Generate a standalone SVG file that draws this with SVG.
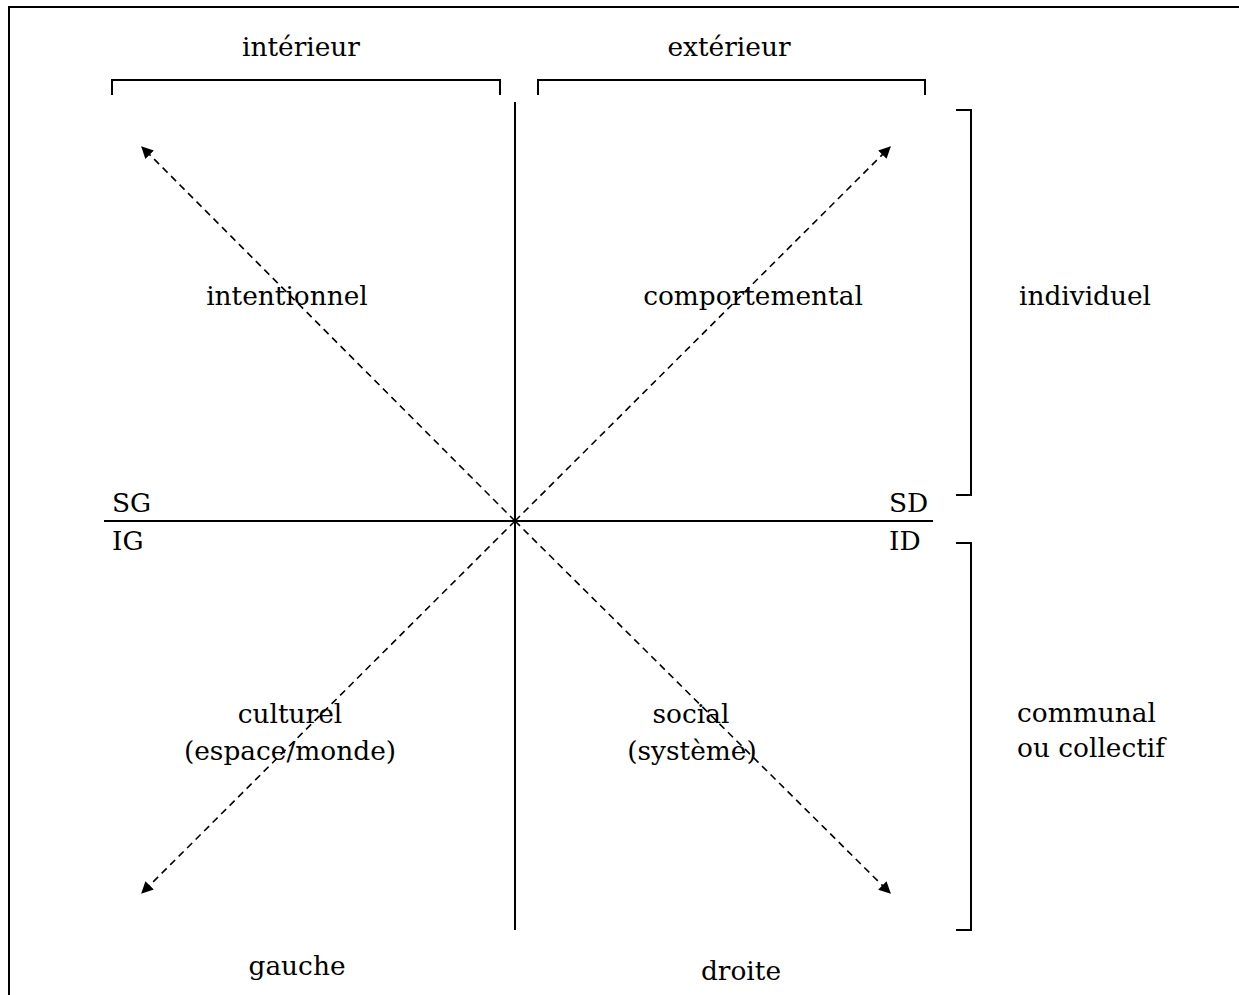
<svg xmlns="http://www.w3.org/2000/svg" width="1239" height="995" viewBox="0 0 1239 995">
<style>
.t{font-family:"DejaVu Serif","Liberation Serif",serif;font-size:26.4px;fill:#000}
.m{text-anchor:middle}
.s{stroke:#000;stroke-width:2;fill:none}
.d{stroke:#000;stroke-width:1.6;stroke-dasharray:7,5;fill:none}
</style>
<defs>
<marker id="ah" viewBox="0 0 10 10" refX="9" refY="5" markerWidth="12" markerHeight="12" markerUnits="userSpaceOnUse" orient="auto">
<path d="M0,0 L10,5 L0,10 z" fill="#000"/>
</marker>
</defs>
<rect width="1239" height="995" fill="#fff"/>
<g id="frame"><path class="s" d="M9,995 V7 H1239"/></g>
<g id="connectors">
<path class="s" d="M112,95 V80 H500 V95"/>
<path class="s" d="M538,95 V80 H925 V95"/>
<path class="s" d="M956,110 H971 V495 H956"/>
<path class="s" d="M956,543 H971 V930 H956"/>
<line class="s" x1="515" y1="102" x2="515" y2="930"/>
<line class="s" x1="104" y1="521" x2="933" y2="521"/>
<line class="d" x1="515" y1="521" x2="142" y2="147" marker-end="url(#ah)"/>
<line class="d" x1="515" y1="521" x2="890" y2="147" marker-end="url(#ah)"/>
<line class="d" x1="515" y1="521" x2="142" y2="893" marker-end="url(#ah)"/>
<line class="d" x1="515" y1="521" x2="890" y2="893" marker-end="url(#ah)"/>
</g>
<g id="n-interieur"><text class="t m" x="301" y="56">intérieur</text></g>
<g id="n-exterieur"><text class="t m" x="729" y="56">extérieur</text></g>
<g id="n-intentionnel"><text class="t m" x="287" y="305">intentionnel</text></g>
<g id="n-comportemental"><text class="t m" x="753" y="305">comportemental</text></g>
<g id="n-individuel"><text class="t m" x="1085" y="305">individuel</text></g>
<g id="n-SG"><text class="t" x="112" y="512">SG</text></g>
<g id="n-IG"><text class="t" x="112" y="550">IG</text></g>
<g id="n-SD"><text class="t" x="889" y="512">SD</text></g>
<g id="n-ID"><text class="t" x="889" y="550">ID</text></g>
<g id="n-culturel"><text class="t m" x="290" y="723">culturel</text><text class="t m" x="290" y="760">(espace/monde)</text></g>
<g id="n-social"><text class="t m" x="691" y="723">social</text><text class="t m" x="692" y="760">(système)</text></g>
<g id="n-communal"><text class="t" x="1017" y="722">communal</text><text class="t" x="1017" y="757">ou collectif</text></g>
<g id="n-gauche"><text class="t m" x="297" y="975">gauche</text></g>
<g id="n-droite"><text class="t m" x="741" y="980">droite</text></g>
</svg>
